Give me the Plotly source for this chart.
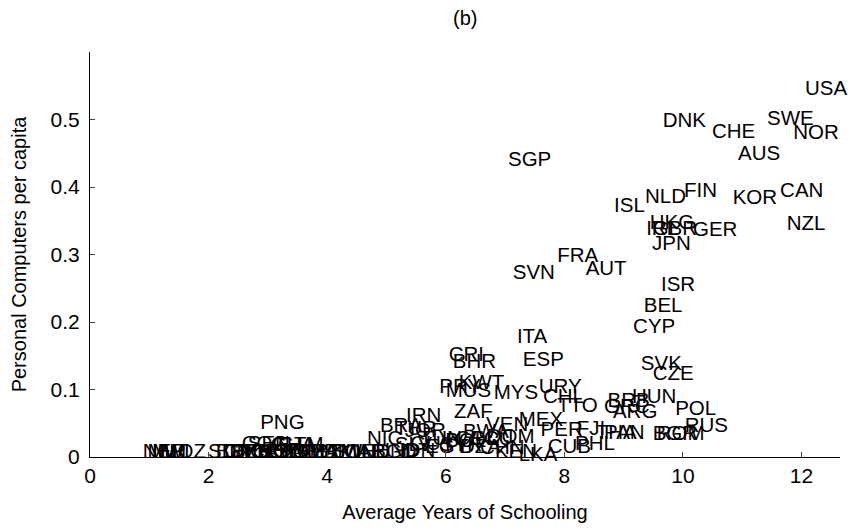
import plotly.graph_objects as go

countries = ["USA","DNK","CHE","SWE","NOR","AUS","SGP","FIN","NLD","ISL","KOR","CAN","NZL",
             "HKG","IRL","GBR","GER","JPN","FRA","AUT","SVN","ISR","BEL","CYP","ITA","CRI","BHR",
             "ESP","SVK","CZE","KWT","PRY","MUS","MYS","URY","CHL","TTO","ZAF","IRN","MEX","BRA",
             "VEN","BWA","PER","FJI","THA","PAN","CUB","PHL","LKA","BRB","GRC","ARG","HUN","POL",
             "RUS","BGR","ROM","PNG","TUR","JOR","ECU","COL","DOM","TUN","SLV","GUY","EGY","SYR",
             "BOL","NIC","DZA","CHN","IDN","HND","KEN",
             "NER","MWI","MLI","MOZ","SDN","BDI","GMB","BEN","TGO","CAF","UGA","RWA","SLE","ZMB",
             "CMR","TZA","PAK","LSO","ZWE","MAR","IND","BGD","COG","SEN","GHA","GTM"]

schooling = [12.06,9.66,10.49,11.42,11.86,10.93,7.05,10.02,9.36,8.84,10.84,11.64,11.75,
             9.44,9.38,9.49,10.17,9.48,7.88,8.36,7.13,9.63,9.34,9.16,7.20,6.05,6.12,
             7.30,9.29,9.49,6.22,5.89,6.00,6.81,7.57,7.64,7.88,6.14,5.33,7.23,4.89,
             6.68,6.29,7.60,8.21,8.53,8.67,7.72,8.18,7.23,8.73,8.67,8.82,9.14,9.87,
             10.03,9.49,9.56,2.87,5.14,5.31,6.41,6.16,6.69,5.56,5.14,5.40,5.65,5.90,
             5.99,4.67,6.24,6.58,5.23,4.81,6.83,
             0.89,0.97,1.05,1.19,1.99,2.12,2.26,2.39,2.53,2.70,2.83,2.95,3.12,3.29,
             3.41,3.54,3.74,3.88,4.05,4.22,4.47,4.76,2.56,2.66,3.05,3.17]

pcs = [0.544,0.497,0.480,0.500,0.478,0.447,0.439,0.393,0.384,0.371,0.382,0.393,0.344,
       0.345,0.337,0.337,0.335,0.314,0.296,0.277,0.272,0.253,0.222,0.192,0.176,0.150,0.139,
       0.143,0.136,0.122,0.108,0.102,0.096,0.094,0.103,0.087,0.074,0.066,0.059,0.054,0.044,
       0.046,0.036,0.039,0.040,0.035,0.035,0.014,0.018,0.002,0.081,0.073,0.066,0.087,0.070,
       0.045,0.033,0.033,0.049,0.040,0.037,0.025,0.025,0.028,0.025,0.016,0.018,0.013,0.016,
       0.022,0.025,0.013,0.012,0.007,0.007,0.006,
       0.006,0.006,0.006,0.006,0.006,0.006,0.006,0.006,0.006,0.006,0.006,0.006,0.006,0.006,
       0.006,0.006,0.006,0.006,0.006,0.006,0.006,0.006,0.018,0.018,0.016,0.016]

yticks = [0, 0.1, 0.2, 0.3, 0.4, 0.5]
ytick_labels = ["0", "0.1", "0.2", "0.3", "0.4", "0.5"]
xticks = [0, 2, 4, 6, 8, 10, 12]

FONT = "Liberation Sans, Arial, sans-serif"

fig = go.Figure(go.Scatter(
    x=schooling, y=pcs, text=countries, mode="text",
    textposition="middle right",
    textfont=dict(family=FONT, size=20.5, color="black"),
    cliponaxis=False, hoverinfo="skip",
))

fig.update_layout(
    width=854, height=531,
    margin=dict(l=90, r=14, t=52, b=74, autoexpand=False),
    paper_bgcolor="white", plot_bgcolor="white",
    showlegend=False,
    font=dict(family=FONT, size=20, color="black"),
    title=dict(text="(b)", x=0.5448, xanchor="center", y=0.966, yanchor="middle",
               font=dict(family=FONT, size=20, color="black")),
    xaxis=dict(range=[0, 12.65], tickvals=xticks, ticks="inside", ticklen=5,
               showline=True, linecolor="black", linewidth=1, showgrid=False, zeroline=False,
               tickfont=dict(family=FONT, size=21, color="black"),
               title=dict(text="Average Years of Schooling", standoff=18,
                          font=dict(family=FONT, size=20, color="black"))),
    yaxis=dict(range=[0, 0.6], tickvals=yticks, ticktext=ytick_labels, ticks="inside", ticklen=5,
               ticklabelstandoff=5,
               showline=True, linecolor="black", linewidth=1, showgrid=False, zeroline=False,
               tickfont=dict(family=FONT, size=21, color="black"),
               title=dict(text="Personal Computers per capita", standoff=18,
                          font=dict(family=FONT, size=20, color="black"))),
)

fig.write_html("out.html", config={"displayModeBar": False},
               post_script="document.body.style.margin='0';document.body.style.overflow='hidden';")
